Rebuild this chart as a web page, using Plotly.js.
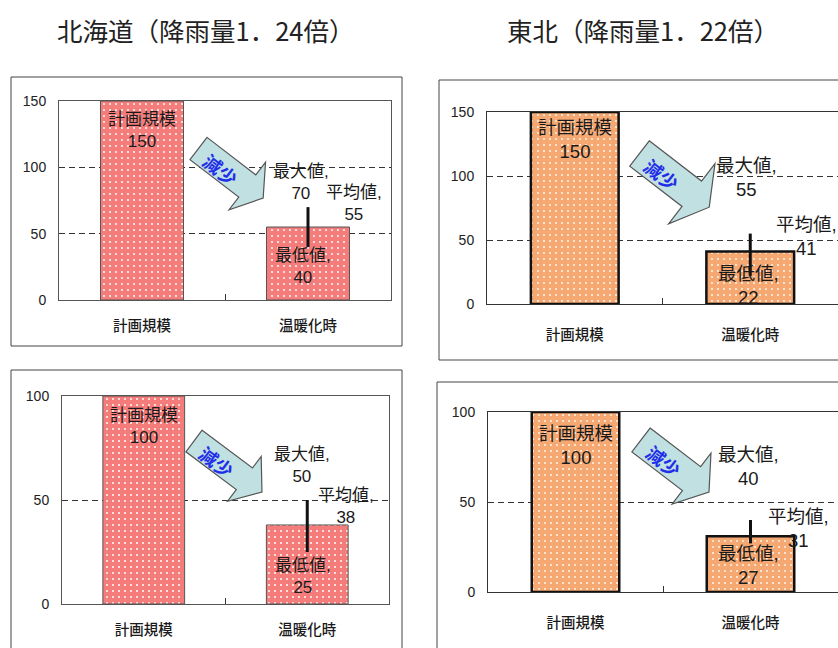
<!DOCTYPE html>
<html>
<head>
<meta charset="utf-8">
<script src="https://cdn.plot.ly/plotly-3.0.1.min.js"></script>
<style>
  html, body { margin: 0; padding: 0; background: #fff; }
  #chart { width: 838px; height: 648px; }
</style>
</head>
<body>
<div id="chart"></div>
<script>
// ---- data ----
const categories = ['計画規模', '温暖化時'];
const regionTitles = ['北海道（降雨量1．24倍）', '東北（降雨量1．22倍）'];
const labelNames = ['最大値', '平均値', '最低値'];
const arrowText = '減少';

// panel order: 北海道 (150), 東北 (150), 北海道 (100), 東北 (100)
const planValues = [150, 150, 100, 100];
const maxValues  = [70, 55, 50, 40];
const meanValues = [55, 41, 38, 31];
const minValues  = [40, 22, 25, 27];

// ---- page geometry (pixels) ----
const W = 838, H = 648;
const px = x => x / W;
const py = y => 1 - y / H;

const JP = '"Liberation Sans", "Noto Sans CJK JP", sans-serif';
const PINK = { fill: '#f47d7b', dot: '#fff4f2' };
const ORANGE = { fill: '#f6a872', dot: '#fff0e2' };

const panels = [
  { plot: [59, 101, 391, 300], box: [11, 77, 402, 346], ymax: 150, col: PINK,
    barLine: { color: '#555', width: 1 }, axisColor: '#555', font: 17, catStand: 13,
    planShift: -7,
    offs: [[-7, 25], [46, 24], [-5, -20]],
    arrow: { x: 198.5, y: 148.5, angle: 37.5, len: 81.5, shaft: 28, head: 60, headLen: 20 } },
  { plot: [487, 112, 838, 304], box: [439, 80, 860, 360], ymax: 150, col: ORANGE,
    barLine: { color: '#111', width: 2.5 }, axisColor: '#333', font: 18.5, catStand: 18,
    planShift: -3,
    offs: [[-4, 56], [56, 15], [-2, -10]],
    arrow: { x: 639.5, y: 153.5, angle: 37.6, len: 88, shaft: 32, head: 76, headLen: 22 } },
  { plot: [62, 396, 389, 604], box: [11, 370, 402, 670], ymax: 100, col: PINK,
    barLine: { color: '#555', width: 1 }, axisColor: '#555', font: 17, catStand: 13,
    planShift: -8,
    offs: [[-5, 35], [39, 18], [-4, -24]],
    arrow: { x: 194, y: 441, angle: 36.9, len: 85, shaft: 27, head: 56, headLen: 22 } },
  { plot: [488, 412, 838, 592], box: [437, 382, 860, 670], ymax: 100, col: ORANGE,
    barLine: { color: '#111', width: 2.5 }, axisColor: '#333', font: 18.5, catStand: 18,
    planShift: -9,
    offs: [[-2, 54], [48, 8], [-2, -22]],
    arrow: { x: 641, y: 440, angle: 37.4, len: 85.6, shaft: 30, head: 64, headLen: 22 } }
];

// block arrow pointing along `angle`, built around the tail centre
function arrowShape(a) {
  const t = a.angle * Math.PI / 180;
  const ux = Math.cos(t), uy = Math.sin(t), nx = -uy, ny = ux;
  const sl = a.len - a.headLen;
  const local = [[0, -a.shaft / 2], [sl, -a.shaft / 2], [sl, -a.head / 2], [a.len, 0],
                 [sl, a.head / 2], [sl, a.shaft / 2], [0, a.shaft / 2]];
  const pts = local.map(p => [a.x + p[0] * ux + p[1] * nx, a.y + p[0] * uy + p[1] * ny]);
  const d = pts.map((p, i) => (i ? 'L' : 'M') + px(p[0]).toFixed(5) + ',' + py(p[1]).toFixed(5)).join(' ') + ' Z';
  const tc = [a.x + 31 * ux + 3 * nx, a.y + 31 * uy + 3 * ny];
  return {
    shape: { type: 'path', xref: 'paper', yref: 'paper', path: d,
             fillcolor: '#c0e0e2', line: { color: '#555', width: 1.2 } },
    label: { xref: 'paper', yref: 'paper', x: px(tc[0]), y: py(tc[1]), text: '<b>' + arrowText + '</b>',
             showarrow: false, textangle: a.angle, xanchor: 'center', yanchor: 'middle',
             font: { family: '"Noto Sans CJK JP", sans-serif', size: 18.5, color: '#1f2ee8' } }
  };
}

const traces = [];
const layout = {
  width: W, height: H,
  margin: { l: 0, r: 0, t: 0, b: 0 },
  paper_bgcolor: '#fff', plot_bgcolor: '#fff',
  showlegend: false, hovermode: false,
  shapes: [], annotations: []
};

// region titles
[[205, 30], [643, 30]].forEach((p, i) => {
  layout.annotations.push({ xref: 'paper', yref: 'paper', x: px(p[0]), y: py(p[1]),
    text: regionTitles[i], showarrow: false, xanchor: 'center', yanchor: 'middle',
    font: { family: '"Noto Sans CJK JP", sans-serif', size: 25.5, color: '#222' } });
});

panels.forEach((p, i) => {
  const n = i + 1;
  const xa = 'x' + (n === 1 ? '' : n), ya = 'y' + (n === 1 ? '' : n);
  const xk = 'xaxis' + (n === 1 ? '' : n), yk = 'yaxis' + (n === 1 ? '' : n);

  // outer frame of the chart block
  layout.shapes.push({ type: 'rect', xref: 'paper', yref: 'paper', layer: 'below',
    x0: px(p.box[0]), x1: px(p.box[2]), y0: py(p.box[3]), y1: py(p.box[1]),
    line: { color: '#444', width: 1 }, fillcolor: 'rgba(0,0,0,0)' });

  layout[xk] = {
    type: 'category', domain: [px(p.plot[0]), px(p.plot[2])], range: [-0.5, 1.5],
    anchor: ya, showline: true, mirror: true, linecolor: p.axisColor, linewidth: 1,
    ticks: 'inside', tickson: 'boundaries', ticklen: 6, tickcolor: '#333',
    showgrid: false, fixedrange: true, ticklabelstandoff: p.catStand,
    tickfont: { family: '"Noto Sans CJK JP", sans-serif', size: 14.5, color: '#1a1a1a', weight: 500 }
  };
  layout[yk] = {
    domain: [py(p.plot[3]), py(p.plot[1])], range: [0, p.ymax], dtick: 50,
    anchor: xa, showline: true, mirror: true, linecolor: p.axisColor, linewidth: 1,
    showgrid: true, griddash: '6px,4px', gridcolor: '#333', gridwidth: 1,
    zeroline: false, ticks: '', fixedrange: true, ticklabelstandoff: 9,
    tickfont: { family: '"Liberation Sans", Arial, sans-serif', size: 14, color: '#222' }
  };

  // plan vs. warming-mean bars
  traces.push({
    type: 'bar', x: categories, y: [planValues[i], meanValues[i]], xaxis: xa, yaxis: ya,
    width: 0.5, hoverinfo: 'skip',
    marker: { color: p.col.fill, line: p.barLine,
      pattern: { shape: '.', bgcolor: p.col.fill, fgcolor: p.col.dot, size: 6, solidity: 0.1 } }
  });
  // min–max range line
  traces.push({
    type: 'scatter', mode: 'lines', x: [categories[1], categories[1]],
    y: [minValues[i], maxValues[i]], xaxis: xa, yaxis: ya, hoverinfo: 'skip',
    line: { color: '#111', width: 3 }
  });

  const f = { family: JP, size: p.font, color: '#1a1a1a' };
  // label inside the plan bar
  layout.annotations.push({ xref: xa, yref: ya, x: categories[0], y: planValues[i],
    yshift: p.planShift, yanchor: 'top', xanchor: 'center', showarrow: false,
    text: categories[0] + '<br>' + planValues[i], font: f });
  // max / mean / min labels
  [maxValues[i], meanValues[i], minValues[i]].forEach((v, k) => {
    layout.annotations.push({ xref: xa, yref: ya, x: categories[1], y: v,
      xshift: p.offs[k][0], yshift: p.offs[k][1], xanchor: 'center', yanchor: 'middle',
      showarrow: false, text: labelNames[k] + ',<br>' + v, font: f });
  });

  const arr = arrowShape(p.arrow);
  layout.shapes.push(arr.shape);
  layout.annotations.push(arr.label);
});

Plotly.newPlot('chart', traces, layout, { staticPlot: true, displayModeBar: false });
</script>
</body>
</html>
